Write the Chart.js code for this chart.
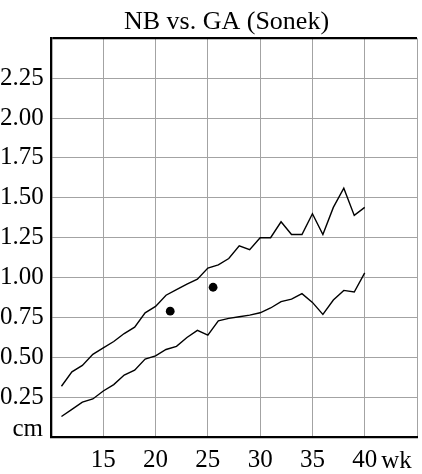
<!DOCTYPE html>
<html>
<head>
<meta charset="utf-8">
<script src="https://cdn.jsdelivr.net/npm/chart.js@4.4.1/dist/chart.umd.min.js"></script>
<style>
  html, body { margin: 0; padding: 0; background: #fff; overflow: hidden; width: 422px; height: 474px; }
  canvas { display: block; }
</style>
</head>
<body>
<canvas id="chart" width="425" height="474" style="width:425px;height:474px"></canvas>
<script>
// Gestational age (weeks) for the reference band
const weeks = [11, 12, 13, 14, 15, 16, 17, 18, 19, 20,
               21, 22, 23, 24, 25, 26, 27, 28, 29, 30,
               31, 32, 33, 34, 35, 36, 37, 38, 39, 40];

// Upper and lower limits of nasal bone length (cm)
const upperLimit = [0.32, 0.41, 0.45, 0.52, 0.56, 0.60, 0.65, 0.69, 0.78, 0.82,
                    0.89, 0.925, 0.96, 0.99, 1.06, 1.08, 1.12, 1.20, 1.175, 1.25,
                    1.25, 1.35, 1.27, 1.27, 1.40, 1.27, 1.44, 1.56, 1.39, 1.44];
const lowerLimit = [0.13, 0.175, 0.22, 0.24, 0.29, 0.33, 0.39, 0.42, 0.49, 0.51,
                    0.55, 0.57, 0.625, 0.67, 0.64, 0.73, 0.745, 0.755, 0.765, 0.78,
                    0.81, 0.85, 0.865, 0.90, 0.845, 0.77, 0.86, 0.92, 0.91, 1.03];

// Measured exams
const examWeeks = [21.4, 25.5];
const examValues = [0.79, 0.94];

// Axis labelling
const xTickLabels = ['15', '20', '25', '30', '35', '40'];
const yTickLabels = ['0.25', '0.50', '0.75', '1.00', '1.25', '1.50', '1.75', '2.00', '2.25'];
const xUnit = 'wk';
const yUnit = 'cm';
const chartTitle = 'NB vs. GA (Sonek)';

const SERIF = "'Liberation Serif', 'Times New Roman', serif";
const GRID = '#a3a3a3';

const toPoints = (xs, ys) => xs.map((x, i) => ({ x, y: ys[i] }));

// Unit captions next to the tick labels
const unitLabels = {
  id: 'unitLabels',
  afterDraw(chart) {
    const { ctx, scales: { x, y } } = chart;
    ctx.save();
    ctx.font = '25px ' + SERIF;
    ctx.fillStyle = '#000';
    ctx.textBaseline = 'alphabetic';
    ctx.textAlign = 'right';
    ctx.fillText(yUnit, chart.chartArea.left - 8, y.getPixelForValue(0) - 1);
    ctx.textAlign = 'left';
    const x40 = x.getPixelForValue(40);
    ctx.fillText(xUnit, x40 + ctx.measureText('40').width / 2 + 4, chart.chartArea.bottom + 31);
    ctx.restore();
  }
};

new Chart(document.getElementById('chart'), {
  type: 'scatter',
  data: {
    datasets: [
      {
        data: toPoints(weeks, upperLimit),
        showLine: true,
        borderColor: '#000',
        borderWidth: 1.4,
        pointRadius: 0,
        tension: 0
      },
      {
        data: toPoints(weeks, lowerLimit),
        showLine: true,
        borderColor: '#000',
        borderWidth: 1.4,
        pointRadius: 0,
        tension: 0
      },
      {
        data: toPoints(examWeeks, examValues),
        showLine: false,
        backgroundColor: '#000',
        borderColor: '#000',
        pointRadius: 4.4,
        pointBorderWidth: 0
      }
    ]
  },
  options: {
    responsive: false,
    animation: false,
    layout: { padding: { left: 28, right: 0, top: 0, bottom: 0 } },
    plugins: {
      legend: { display: false },
      tooltip: { enabled: false },
      title: {
        display: true,
        text: chartTitle,
        color: '#000',
        font: { family: SERIF, size: 26, weight: 'normal', lineHeight: 1.2 },
        padding: { top: 7, bottom: 0 }
      }
    },
    scales: {
      x: {
        type: 'linear',
        min: 10,
        max: 45,
        afterFit: s => { s.height = 36.7; },
        ticks: {
          stepSize: 5,
          padding: 8,
          color: '#000',
          maxRotation: 0,
          autoSkip: false,
          font: { family: SERIF, size: 25 },
          callback: v => {
            const i = (v - 15) / 5;
            return Number.isInteger(i) && i >= 0 && i < xTickLabels.length ? xTickLabels[i] : '';
          }
        },
        grid: { color: GRID, lineWidth: 1, drawTicks: false },
        border: { color: '#000', width: 2.3 }
      },
      y: {
        type: 'linear',
        min: 0,
        max: 2.5,
        afterFit: s => { s.width = 23; },
        ticks: {
          stepSize: 0.25,
          mirror: true,
          padding: -51,
          color: '#000',
          font: { family: SERIF, size: 25 },
          callback: v => {
            const i = Math.round(v / 0.25) - 1;
            return i >= 0 && i < yTickLabels.length ? yTickLabels[i] : '';
          }
        },
        grid: {
          drawTicks: false,
          color: c => (c.tick && c.tick.value === 2.5 ? '#000' : GRID),
          lineWidth: c => (c.tick && c.tick.value === 2.5 ? 2.3 : 1)
        },
        border: { color: '#000', width: 2.3 }
      }
    }
  },
  plugins: [unitLabels]
});
</script>
</body>
</html>
